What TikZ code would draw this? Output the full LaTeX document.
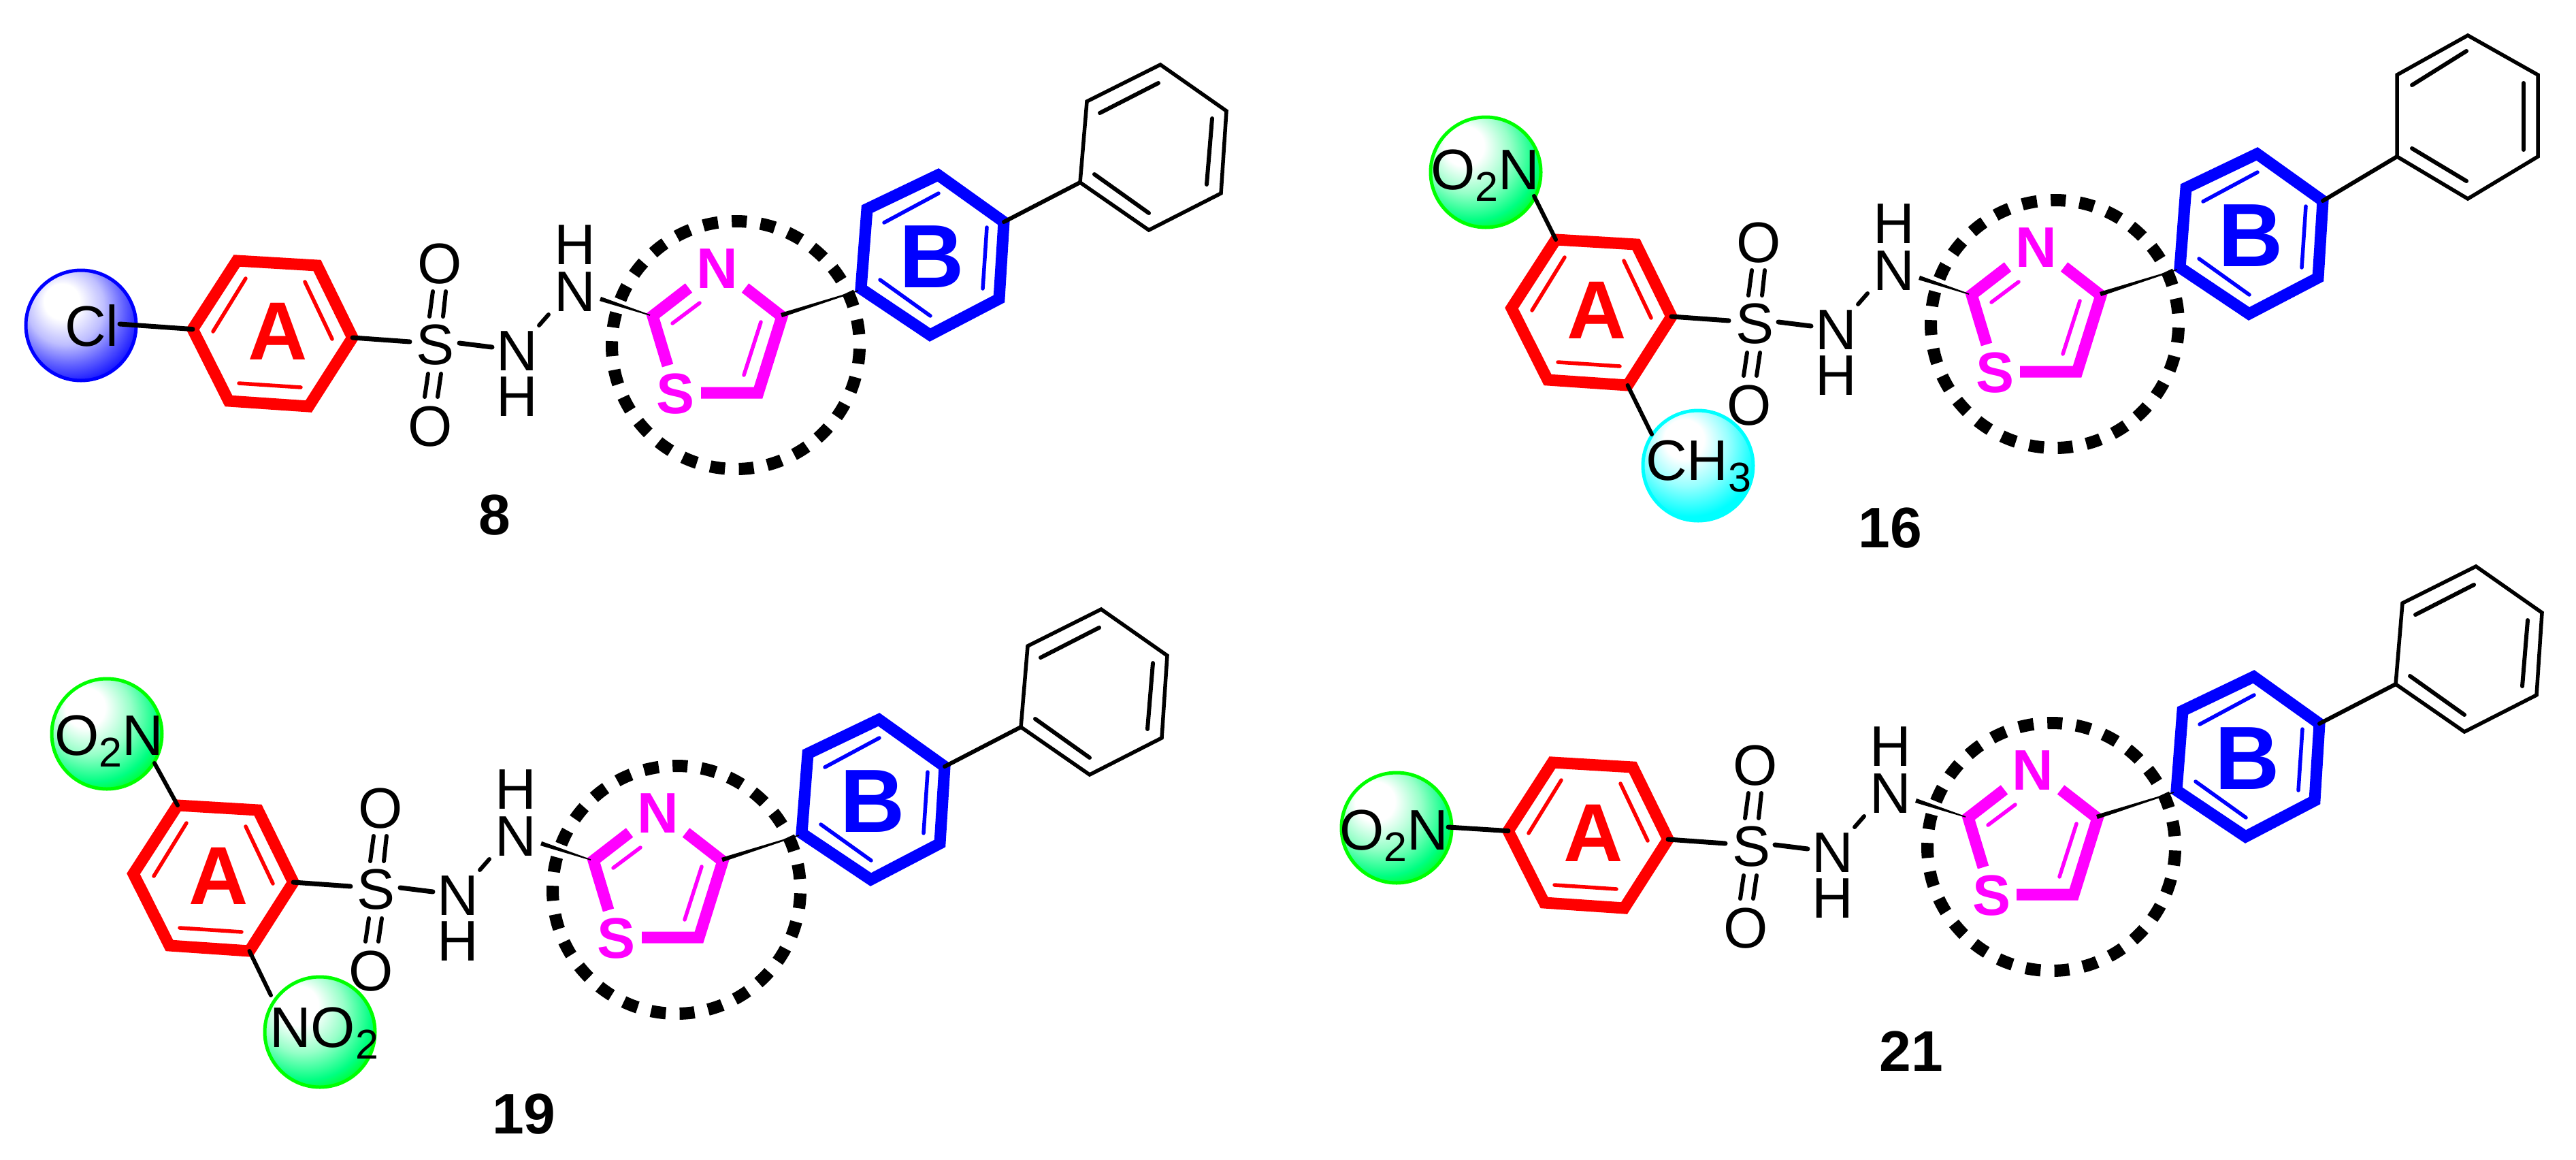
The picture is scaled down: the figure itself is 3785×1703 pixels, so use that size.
\documentclass[tikz,border=0pt]{standalone}
\usepackage{fontspec}
\setmainfont{Liberation Sans}
\usetikzlibrary{calc}
\definecolor{cred}{RGB}{255,0,0}
\definecolor{cblue}{RGB}{0,0,255}
\definecolor{cmag}{RGB}{255,0,255}
\definecolor{cgreen}{RGB}{0,255,0}
\definecolor{ccyan}{RGB}{0,255,255}
\definecolor{gmid}{RGB}{150,255,200}
\definecolor{gspring}{RGB}{0,255,130}
\definecolor{cmid}{RGB}{150,255,255}
\definecolor{bmid}{RGB}{190,190,255}
\definecolor{bmid2}{RGB}{100,100,255}
\pgfdeclareradialshading{ballgreen}{\pgfpoint{-11.5bp}{14bp}}{color(0bp)=(white); color(9bp)=(white); color(19bp)=(gmid); color(29bp)=(gspring); color(36bp)=(cgreen); color(60bp)=(cgreen)}
\pgfdeclareradialshading{ballcyan}{\pgfpoint{-7.5bp}{14bp}}{color(0bp)=(white); color(9bp)=(white); color(19bp)=(cmid); color(30bp)=(ccyan); color(60bp)=(ccyan)}
\pgfdeclareradialshading{ballblue}{\pgfpoint{-10bp}{12.5bp}}{color(0bp)=(white); color(8bp)=(white); color(17.5bp)=(bmid); color(25bp)=(bmid2); color(34bp)=(cblue); color(60bp)=(cblue)}
\tikzset{
  thinbond/.style={draw=black,line width=6pt,line cap=round},
  bondmed/.style={draw=black,line width=7pt,line cap=round},
  ringA/.style={draw=cred,line width=17pt,miter limit=10},
  ringB/.style={draw=cblue,line width=17pt,miter limit=10},
  ringT/.style={draw=cmag,line width=17pt,miter limit=10},
  innerA/.style={draw=cred,line width=5.5pt,line cap=round},
  innerB/.style={draw=cblue,line width=5.5pt,line cap=round},
  innerT/.style={draw=cmag,line width=5.5pt,line cap=round},
  phen/.style={draw=black,line width=5.5pt,miter limit=10},
  dotcirc/.style={draw=black,line width=18pt,dash pattern=on 22pt off 20.33pt,dash phase=26.6pt},
  atom/.style={inner sep=0pt,font=\fontsize{84}{90}\selectfont,text=black},
  atomT/.style={inner sep=0pt,font=\fontsize{84}{90}\selectfont\bfseries,text=cmag},
  subst/.style={inner sep=0pt,anchor=base west,font=\fontsize{84}{90}\selectfont,text=black},
  letterA/.style={inner sep=0pt,font=\fontsize{121}{125}\selectfont\bfseries,text=cred},
  letterB/.style={inner sep=0pt,font=\fontsize{132}{136}\selectfont\bfseries,text=cblue},
  molabel/.style={inner sep=0pt,font=\fontsize{84}{90}\selectfont\bfseries,text=black},
  ball/.style={circle,minimum size=162pt,inner sep=0pt,line width=5pt}
}
\newcommand{\subtwo}[1]{\raisebox{-17pt}{\fontsize{61}{61}\selectfont #1}}
% tapered bond from thick end #1 to pointed end #2
\newcommand{\taperbond}[2]{%
  \fill[black] ($(#1)!3.2pt!90:(#2)$) -- ($(#1)!3.2pt!-90:(#2)$) -- ($(#2)!0.8pt!90:(#1)$) -- ($(#2)!0.8pt!-90:(#1)$) -- cycle;
}
\newcommand{\drawphenyl}{%
  \draw[phen] (P1) -- (P2) -- (P3) -- (P4) -- (P5) -- (P6) -- cycle;
  \draw[thinbond] (Pa1) -- (Pa2);
  \draw[thinbond] (Pb1) -- (Pb2);
  \draw[thinbond] (Pc1) -- (Pc2);
  \draw[thinbond] (B2) -- (P1);
}
\newcommand{\stdphenyl}{%
  \coordinate (P1) at (1587,268); \coordinate (P2) at (1597,149);
  \coordinate (P3) at (1705,95);  \coordinate (P4) at (1802,163);
  \coordinate (P5) at (1794,284); \coordinate (P6) at (1688,338);
  \coordinate (Pa1) at (1616,166); \coordinate (Pa2) at (1702,122);
  \coordinate (Pb1) at (1781,174); \coordinate (Pb2) at (1773,271);
  \coordinate (Pc1) at (1608,256); \coordinate (Pc2) at (1688,313);
}
\newcommand{\molcore}{%
  % dotted circle
  \coordinate (cc) at (1081,507);
  \draw[dotcirc] (cc) circle[radius=182pt];
  % ring A
  \coordinate (A1) at (348,383); \coordinate (A2) at (466,390);
  \coordinate (A3) at (518,496); \coordinate (A4) at (453.5,597);
  \coordinate (A5) at (336,589); \coordinate (A6) at (283,483.6);
  \draw[ringA] (A1) -- (A2) -- (A3) -- (A4) -- (A5) -- (A6) -- cycle;
  \coordinate (Aa1) at (361,409); \coordinate (Aa2) at (313,487);
  \coordinate (Ab1) at (448,414); \coordinate (Ab2) at (488,498);
  \coordinate (Ac1) at (351,563); \coordinate (Ac2) at (442,569);
  \draw[innerA] (Aa1) -- (Aa2);
  \draw[innerA] (Ab1) -- (Ab2);
  \draw[innerA] (Ac1) -- (Ac2);
  \node[letterA] (LA) at (408,487) {A};
  % sulfonyl hydrazide
  \node[atom] (S) at (640,507) {S};
  \node[atom] (Ot) at (646,388) {O};
  \node[atom] (Ob) at (632,627) {O};
  \node[atom] (Nl) at (760,516) {N};
  \node[atom] (Hl) at (760,583) {H};
  \node[atom] (Nu) at (845,429) {N};
  \node[atom] (Hu) at (845,360) {H};
  \coordinate (SAe) at (602,502);
  \draw[bondmed] (A3) -- (SAe);
  \coordinate (SNa) at (675,504); \coordinate (SNb) at (723,510);
  \draw[bondmed] (SNa) -- (SNb);
  \coordinate (Ot1) at (636,428); \coordinate (Ot1e) at (631,465);
  \coordinate (Ot2) at (655,428); \coordinate (Ot2e) at (651,465);
  \draw[thinbond] (Ot1) -- (Ot1e);
  \draw[thinbond] (Ot2) -- (Ot2e);
  \coordinate (Ob1) at (629,549); \coordinate (Ob1e) at (624,583);
  \coordinate (Ob2) at (648,549); \coordinate (Ob2e) at (643,583);
  \draw[thinbond] (Ob1) -- (Ob1e);
  \draw[thinbond] (Ob2) -- (Ob2e);
  \coordinate (NNa) at (806,462); \coordinate (NNb) at (792,478);
  \draw[thinbond] (NNa) -- (NNb);
  % thiazole
  \node[atomT] (TN) at (1054,395) {N};
  \node[atomT] (TS) at (993,579) {S};
  \coordinate (Tn1) at (1012,423); \coordinate (C2) at (959,464); \coordinate (Ts1) at (981,537);
  \draw[ringT] (Tn1) -- (C2) -- (Ts1);
  \coordinate (Tn2) at (1095,423); \coordinate (C4) at (1149,465);
  \coordinate (C5) at (1114,577); \coordinate (Ts2) at (1030,577);
  \draw[ringT] (Tn2) -- (C4) -- (C5) -- (Ts2);
  \coordinate (Ti1) at (1028,445); \coordinate (Ti2) at (988,475);
  \coordinate (Ti3) at (1118,473); \coordinate (Ti4) at (1093,551);
  \draw[innerT] (Ti1) -- (Ti2);
  \draw[innerT] (Ti3) -- (Ti4);
  \coordinate (Nb) at (882,439); \coordinate (C2b) at (955,463);
  \taperbond{Nb}{C2b}
  % ring B
  \coordinate (B1) at (1378.4,257); \coordinate (B2) at (1475,326);
  \coordinate (B3) at (1468,439); \coordinate (B4) at (1366.5,492);
  \coordinate (B5) at (1265,424); \coordinate (B6) at (1274,307);
  \draw[ringB] (B1) -- (B2) -- (B3) -- (B4) -- (B5) -- (B6) -- cycle;
  \coordinate (Ba1) at (1379,284); \coordinate (Ba2) at (1299,327);
  \coordinate (Bb1) at (1450,334); \coordinate (Bb2) at (1444,424);
  \coordinate (Bc1) at (1293,411); \coordinate (Bc2) at (1367,464);
  \draw[innerB] (Ba1) -- (Ba2);
  \draw[innerB] (Bb1) -- (Bb2);
  \draw[innerB] (Bc1) -- (Bc2);
  \node[letterB] (LB) at (1369,377) {B};
  \coordinate (C4b) at (1148,463); \coordinate (B5b) at (1261,427);
  \taperbond{C4b}{B5b}
}
\begin{document}
\begin{tikzpicture}[x=1pt,y=-1pt]
\useasboundingbox (0,0) rectangle (3785,1703);
% ---------- 8
\node[ball,draw=cblue,shading=ballblue] (ballCl) at (119,478) {};
\node[subst] (Cl) at (95,508) {Cl};
\begin{scope}[name prefix=m8-]
  \molcore
  \stdphenyl
  \drawphenyl
  \coordinate (ClE) at (176,476);
  \draw[bondmed] (ClE) -- (A6);
\end{scope}
\node[molabel] (lab8) at (727,757) {8};
% ---------- 16
\node[ball,draw=cgreen,shading=ballgreen] (ball16a) at (2183,253) {};
\node[ball,draw=ccyan,shading=ballcyan] (ball16b) at (2495,684) {};
\node[subst] (no16) at (2102,278) {O\subtwo{2}N};
\node[subst] (me16) at (2418,705) {CH\subtwo{3}};
\begin{scope}[shift={(1938,-31)},name prefix=m16-]
  \molcore
  \coordinate (P1) at (1584,261); \coordinate (P2) at (1584,141);
  \coordinate (P3) at (1688,83);  \coordinate (P4) at (1791,141);
  \coordinate (P5) at (1791,261); \coordinate (P6) at (1688,323);
  \coordinate (Pa1) at (1606,156); \coordinate (Pa2) at (1686,106);
  \coordinate (Pb1) at (1770,153); \coordinate (Pb2) at (1770,251);
  \coordinate (Pc1) at (1606,249); \coordinate (Pc2) at (1686,297);
  \drawphenyl
  \coordinate (Ne) at (316,319);
  \draw[thinbond] (Ne) -- (A1);
  \coordinate (Me) at (489,669);
  \draw[thinbond] (A4) -- (Me);
\end{scope}
\node[molabel] (lab16) at (2777,776) {16};
% ---------- 19
\node[ball,draw=cgreen,shading=ballgreen] (ball19a) at (157,1078) {};
\node[ball,draw=cgreen,shading=ballgreen] (ball19b) at (470,1516) {};
\node[subst] (no19a) at (80,1109) {O\subtwo{2}N};
\node[subst] (no19b) at (396,1538) {NO\subtwo{2}};
\begin{scope}[shift={(-87,800)},name prefix=m19-]
  \molcore
  \stdphenyl
  \drawphenyl
  \coordinate (Ne) at (314,321);
  \draw[thinbond] (Ne) -- (A1);
  \coordinate (Nf) at (485,662);
  \draw[thinbond] (A4) -- (Nf);
\end{scope}
\node[molabel] (lab19) at (770,1637) {19};
% ---------- 21
\node[ball,draw=cgreen,shading=ballgreen] (ball21) at (2052,1216) {};
\node[subst] (no21) at (1968,1248) {O\subtwo{2}N};
\begin{scope}[shift={(1933,737)},name prefix=m21-]
  \molcore
  \stdphenyl
  \drawphenyl
  \coordinate (Ne) at (195,478);
  \draw[bondmed] (Ne) -- (A6);
\end{scope}
\node[molabel] (lab21) at (2808,1544) {21};
\end{tikzpicture}
\end{document}
